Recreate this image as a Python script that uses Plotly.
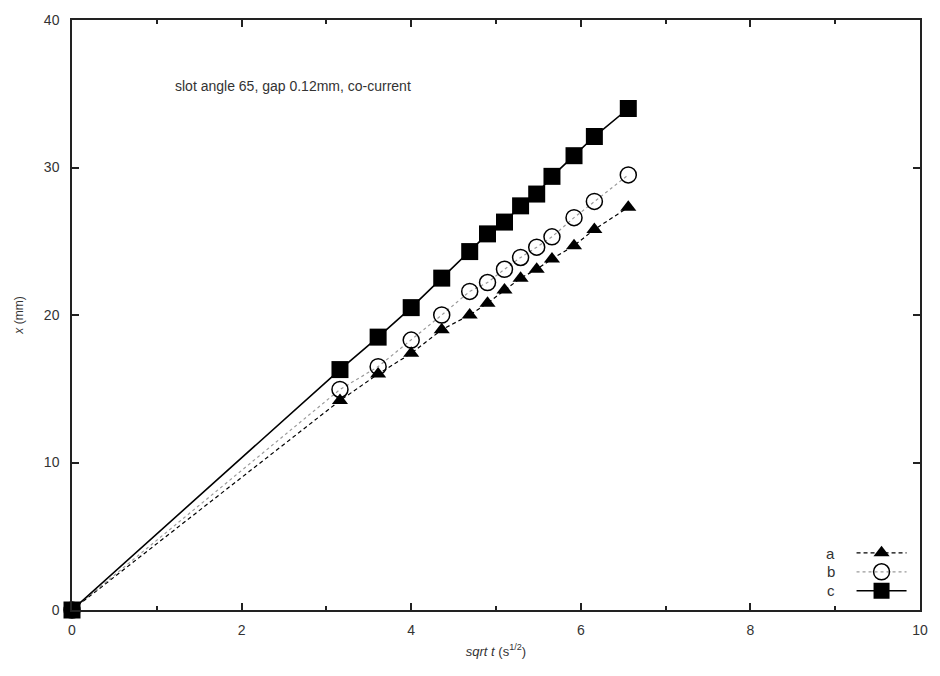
import plotly.graph_objects as go

sqrt_t = [0, 3.16, 3.61, 4.0, 4.36, 4.69, 4.9, 5.1, 5.29, 5.48, 5.66, 5.92, 6.16, 6.56]
x_a = [0, 14.2, 16.0, 17.4, 19.0, 20.0, 20.8, 21.7, 22.5, 23.1, 23.8, 24.7, 25.8, 27.3]
x_b = [0, 14.95, 16.5, 18.3, 20.0, 21.6, 22.2, 23.1, 23.9, 24.6, 25.3, 26.6, 27.7, 29.5]
x_c = [0, 16.3, 18.5, 20.5, 22.5, 24.3, 25.5, 26.3, 27.4, 28.2, 29.4, 30.8, 32.1, 34.0]
series_names = ["a", "b", "c"]
note = "slot angle 65, gap 0.12mm, co-current"

FONT = "Liberation Sans, Arial, sans-serif"
TXT = "#333333"

fig = go.Figure()
fig.add_trace(go.Scatter(
    x=sqrt_t, y=x_a, name=series_names[0], mode="lines+markers",
    line=dict(color="black", width=1.2, dash="4px,3px"),
    marker=dict(symbol="triangle-up", size=14, color="black"),
    cliponaxis=False))
fig.add_trace(go.Scatter(
    x=sqrt_t, y=x_b, name=series_names[1], mode="lines+markers",
    line=dict(color="#9a9a9a", width=1.2, dash="dot"),
    marker=dict(symbol="circle-open", size=16, color="black", line=dict(width=1.5, color="black")),
    cliponaxis=False))
fig.add_trace(go.Scatter(
    x=sqrt_t, y=x_c, name=series_names[2], mode="lines+markers",
    line=dict(color="black", width=1.6),
    marker=dict(symbol="square", size=17, color="black"),
    cliponaxis=False))

axis_common = dict(
    showgrid=False, zeroline=False, showline=True, linecolor="#222222", linewidth=1.5,
    mirror="ticks", ticks="inside", tickcolor="#222222", tickwidth=1.5,
    tickfont=dict(family=FONT, size=14, color=TXT),
)

fig.update_xaxes(range=[0, 10], dtick=2, tick0=0, ticklen=7,
                 minor=dict(dtick=1, ticks="inside", ticklen=4, tickcolor="#222222", tickwidth=1.5),
                 ticklabelstandoff=6,
                 title=dict(text="<i>sqrt t</i> (s<sup>1/2</sup>)", font=dict(family=FONT, size=13, color=TXT), standoff=10),
                 **axis_common)
fig.update_yaxes(range=[0, 40], dtick=10, tick0=0, ticklen=7,
                 ticklabelstandoff=8,
                 title=dict(text="<i>x</i> (mm)", font=dict(family=FONT, size=12, color=TXT), standoff=18),
                 **axis_common)

fig.add_annotation(x=1.19, y=35.5, xref="x", yref="y", text=note, showarrow=False,
                   xanchor="left", yanchor="middle", font=dict(family=FONT, size=14, color=TXT))

# legend labels (text to the left of the samples, as in the reference)
label_y_px = [553, 571, 590]
for name, py in zip(series_names, label_y_px):
    fig.add_annotation(x=(842 - 72) / 854, y=(610 - py) / 594, xref="paper", yref="paper",
                       text=name, showarrow=False, xanchor="right", yanchor="middle",
                       font=dict(family=FONT, size=15, color=TXT))

fig.update_layout(
    width=940, height=676,
    margin=dict(l=72, r=14, t=16, b=66),
    paper_bgcolor="white", plot_bgcolor="white",
    showlegend=True,
    legend=dict(x=1.003, y=0.008, xanchor="right", yanchor="bottom",
                bgcolor="rgba(0,0,0,0)", font=dict(family=FONT, size=10, color="rgba(0,0,0,0)"),
                tracegroupgap=0, itemwidth=50),
)

fig.write_html("out.html")
